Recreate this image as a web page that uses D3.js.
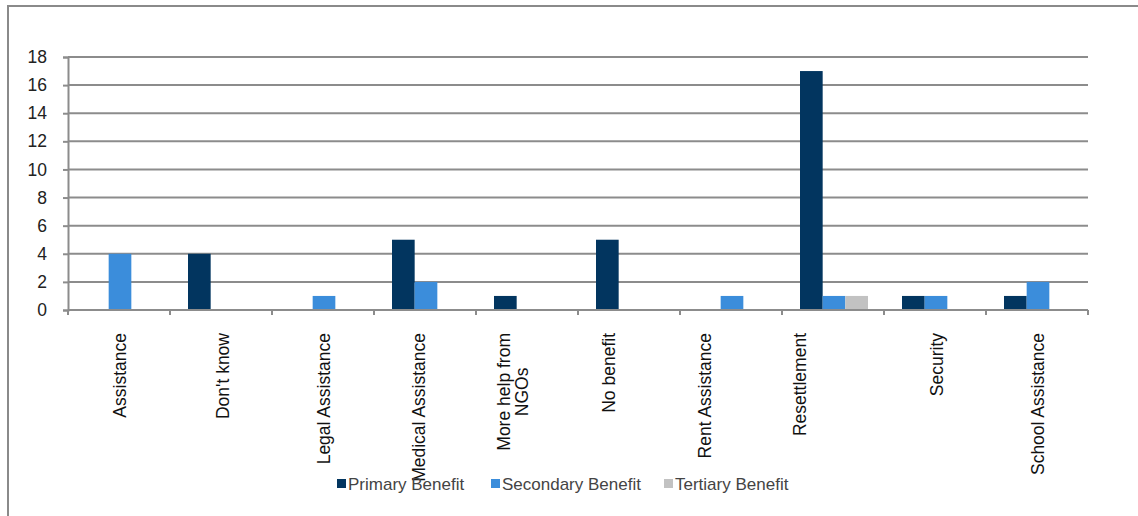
<!DOCTYPE html>
<html>
<head>
<meta charset="utf-8">
<script src="https://cdn.jsdelivr.net/npm/d3@7"></script>
<style>
  html, body { margin: 0; padding: 0; background: #fff; }
  svg { display: block; font-family: "Liberation Sans", Arial, Helvetica, sans-serif; }
</style>
</head>
<body>
<svg id="chart" width="1138" height="516"></svg>
<script>
// Reported benefits, counted per respondent rank
const categories = [
  "Assistance", "Don't know", "Legal Assistance", "Medical Assistance",
  "More help from\nNGOs", "No benefit", "Rent Assistance", "Resettlement",
  "Security", "School Assistance"
];
const seriesNames = ["Primary Benefit", "Secondary Benefit", "Tertiary Benefit"];
const primary   = [0, 4, 0, 5, 1, 5, 0, 17, 1, 1];
const secondary = [4, 0, 1, 2, 0, 0, 1, 1, 1, 2];
const tertiary  = [0, 0, 0, 0, 0, 0, 0, 1, 0, 0];
const yTicks = [0, 2, 4, 6, 8, 10, 12, 14, 16, 18];

const colors = ["#02355f", "#3b8ddb", "#c2c2c2"];
// small horizontal nudges applied to the category captions
const labelNudge = [1, 2, 1, -6, -14, -20, -26, -33, 2, 1];

const svg = d3.select("#chart");
const margin = { left: 68, right: 1088, top: 57, bottom: 310 };

const values = [primary, secondary, tertiary];

const x0 = d3.scaleBand()
  .domain(d3.range(categories.length))
  .range([margin.left, margin.right])
  .paddingInner(0).paddingOuter(0);

const x1 = d3.scaleBand()
  .domain(d3.range(seriesNames.length))
  .range([18, x0.bandwidth() - 16])
  .padding(0);

const y = d3.scaleLinear().domain([0, 18]).range([margin.bottom, margin.top]);

// outer frame (top and left edges)
svg.append("path")
  .attr("d", "M8,516 L8,6 L1138,6")
  .attr("fill", "none")
  .attr("stroke", "#8a8a8a")
  .attr("stroke-width", 2);

// horizontal gridlines
svg.append("g")
  .selectAll("line")
  .data(yTicks.filter(t => t > 0))
  .join("line")
  .attr("x1", margin.left).attr("x2", margin.right)
  .attr("y1", d => y(d)).attr("y2", d => y(d))
  .attr("stroke", "#8c8c8c")
  .attr("stroke-width", 2);

// y axis
const yAxis = svg.append("g")
  .attr("transform", `translate(${margin.left},0)`)
  .call(d3.axisLeft(y).tickValues(yTicks).tickSize(5).tickPadding(16));
yAxis.select(".domain").attr("stroke", "#8c8c8c").attr("stroke-width", 2);
yAxis.selectAll(".tick line").attr("stroke", "#8c8c8c").attr("stroke-width", 2);
yAxis.selectAll(".tick text")
  .attr("font-size", 17.5)
  .attr("fill", "#222")
  .attr("font-family", "Liberation Sans, Arial, sans-serif");

// bars
const groups = svg.append("g")
  .selectAll("g")
  .data(categories.map((c, i) => i))
  .join("g")
  .attr("transform", i => `translate(${x0(i)},0)`);

groups.selectAll("rect")
  .data(i => values.map((arr, s) => ({ s, v: arr[i] })).filter(d => d.v > 0))
  .join("rect")
  .attr("x", d => x1(d.s))
  .attr("width", x1.bandwidth())
  .attr("y", d => y(d.v))
  .attr("height", d => y(0) - y(d.v))
  .attr("fill", d => colors[d.s]);

// x axis
const xAxisG = svg.append("g").attr("transform", `translate(0,${margin.bottom})`);
xAxisG.append("line")
  .attr("x1", margin.left).attr("x2", margin.right)
  .attr("stroke", "#8c8c8c").attr("stroke-width", 2);
xAxisG.selectAll("line.tick")
  .data(d3.range(categories.length + 1))
  .join("line")
  .attr("class", "tick")
  .attr("x1", i => margin.left + i * x0.bandwidth())
  .attr("x2", i => margin.left + i * x0.bandwidth())
  .attr("y1", 0).attr("y2", 5)
  .attr("stroke", "#8c8c8c").attr("stroke-width", 2);

// rotated category captions
const labelTop = 333;
const lineGap = 18;
categories.forEach((c, i) => {
  const lines = c.split("\n");
  const cx = x0(i) + x0.bandwidth() / 2 + labelNudge[i];
  const g = svg.append("g");
  const texts = lines.map((ln, k) => g.append("text")
    .text(ln)
    .attr("font-size", 17.5)
    .attr("fill", "#111")
    .attr("text-anchor", "middle")
    .attr("dy", "0.35em"));
  const maxW = d3.max(texts, t => t.node().getComputedTextLength());
  const cy = labelTop + maxW / 2;
  texts.forEach((t, k) => {
    const lx = cx + (k - (lines.length - 1) / 2) * lineGap;
    t.attr("transform", `translate(${lx},${cy}) rotate(-90)`);
  });
});

// legend
const legendItems = [
  { x: 337, name: seriesNames[0], color: colors[0] },
  { x: 491, name: seriesNames[1], color: colors[1] },
  { x: 664, name: seriesNames[2], color: colors[2] }
];
const legend = svg.append("g");
legend.selectAll("rect")
  .data(legendItems)
  .join("rect")
  .attr("x", d => d.x).attr("y", 479)
  .attr("width", 9).attr("height", 9)
  .attr("fill", d => d.color);
legend.selectAll("text")
  .data(legendItems)
  .join("text")
  .attr("x", d => d.x + 11).attr("y", 484)
  .attr("dy", "0.35em")
  .attr("font-size", 17)
  .attr("fill", "#444")
  .text(d => d.name);
</script>
</body>
</html>
